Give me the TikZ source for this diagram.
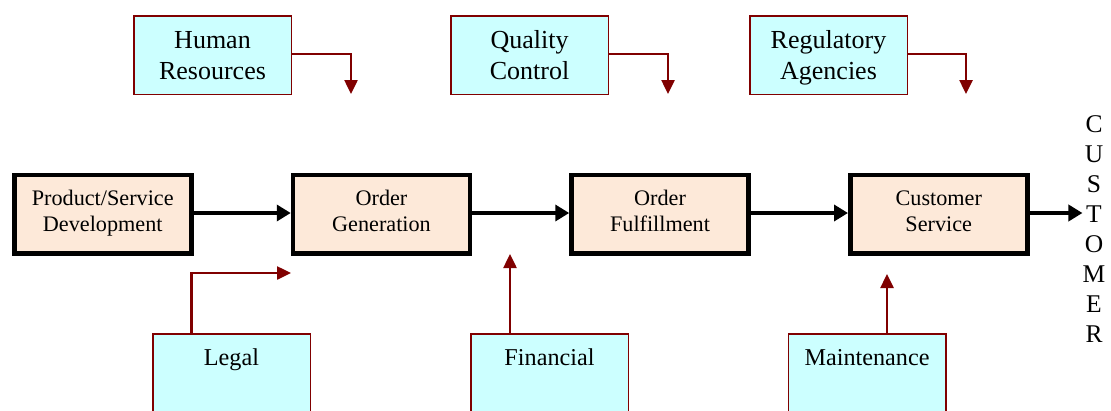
\documentclass[tikz,border=0pt]{standalone}
\usepackage{fontspec}
\setmainfont{Liberation Serif}
\usetikzlibrary{arrows.meta}
\definecolor{cyanfill}{HTML}{CCFFFF}
\definecolor{peach}{HTML}{FDE9D9}
\definecolor{darkred}{HTML}{800000}
\newcommand{\twolines}[3]{\raisebox{#1}[\height][\depth]{\begin{tabular}{@{}c@{}}#2\\#3\end{tabular}}}
\begin{document}
\begin{tikzpicture}[x=1pt,y=-1pt,
 mainbox/.style={draw=black, line width=4.5pt, fill=peach, minimum width=177pt, minimum height=78.5pt, inner sep=0pt, font=\fontsize{22.2}{26}\selectfont},
 sidebox/.style={draw=darkred, line width=1.5pt, fill=cyanfill, minimum width=157.5pt, minimum height=78.5pt, inner sep=0pt, font=\fontsize{26}{31}\selectfont},
 flow/.style={line width=4.5pt, -{Triangle[length=14pt,width=16pt]}},
 feed/.style={draw=darkred, line width=2.5pt, -{Triangle[length=14pt,width=13pt]}},
 lbl/.style={font=\fontsize{24.2}{29}\selectfont, inner sep=0pt, anchor=base}]
\useasboundingbox (0,0) rectangle (1111,410);
\clip (0,0) rectangle (1111,410);
% main flow
\node[mainbox] (pd) at (102.75,214) {\twolines{1pt}{Product/Service}{Development}};
\node[mainbox] (og) at (381.5,214) {\twolines{1pt}{Order}{Generation}};
\node[mainbox] (of) at (660,214) {\twolines{1pt}{Order}{Fulfillment}};
\node[mainbox] (cs) at (938.75,214) {\twolines{1pt}{Customer}{Service}};
\node[inner sep=0pt, anchor=north, align=center, font=\fontsize{25.5}{30}\selectfont] (cust) at (1094,115) {C\\U\\S\\T\\O\\M\\E\\R};
\draw[flow] (pd.east |- 0,213) -- (og.west |- 0,213);
\draw[flow] (og.east |- 0,213) -- (of.west |- 0,213);
\draw[flow] (of.east |- 0,213) -- (cs.west |- 0,213);
\draw[flow] (cs.east |- 0,213) -- (cust.west |- 0,213);
% top boxes
\node[sidebox] (hr) at (212.5,55) {\twolines{-2.3pt}{Human}{Resources}};
\node[sidebox] (qc) at (529.5,55) {\twolines{-2.3pt}{Quality}{Control}};
\node[sidebox] (ra) at (828.5,55) {\twolines{-2.3pt}{Regulatory}{Agencies}};
\coordinate (hrout) at (351,94);
\coordinate (qcout) at (668,94);
\coordinate (raout) at (966,94);
\draw[feed] (hr.east |- 0,54) -| (hrout);
\draw[feed] (qc.east |- 0,54) -| (qcout);
\draw[feed] (ra.east |- 0,54) -| (raout);
% bottom boxes
\node[sidebox, anchor=north, minimum height=100pt] (legal) at (231.5,333) {};
\node[sidebox, anchor=north, minimum height=100pt] (fin) at (549.5,333) {};
\node[sidebox, anchor=north, minimum height=100pt] (mnt) at (867,333) {};
\node[lbl] (legaltxt) at (231.5,365) {Legal};
\node[lbl] (fintxt) at (549.5,365) {Financial};
\node[lbl] (mnttxt) at (867,365) {Maintenance};
\coordinate (legalup) at (191.5,273);
\coordinate (legalto) at (291,273);
\coordinate (finup) at (510,254);
\coordinate (mntup) at (887,274);
\draw[feed] (legal.north -| legalup) |- (legalto);
\draw[feed] (fin.north -| finup) -- (finup);
\draw[feed] (mnt.north -| mntup) -- (mntup);
\end{tikzpicture}
\end{document}
